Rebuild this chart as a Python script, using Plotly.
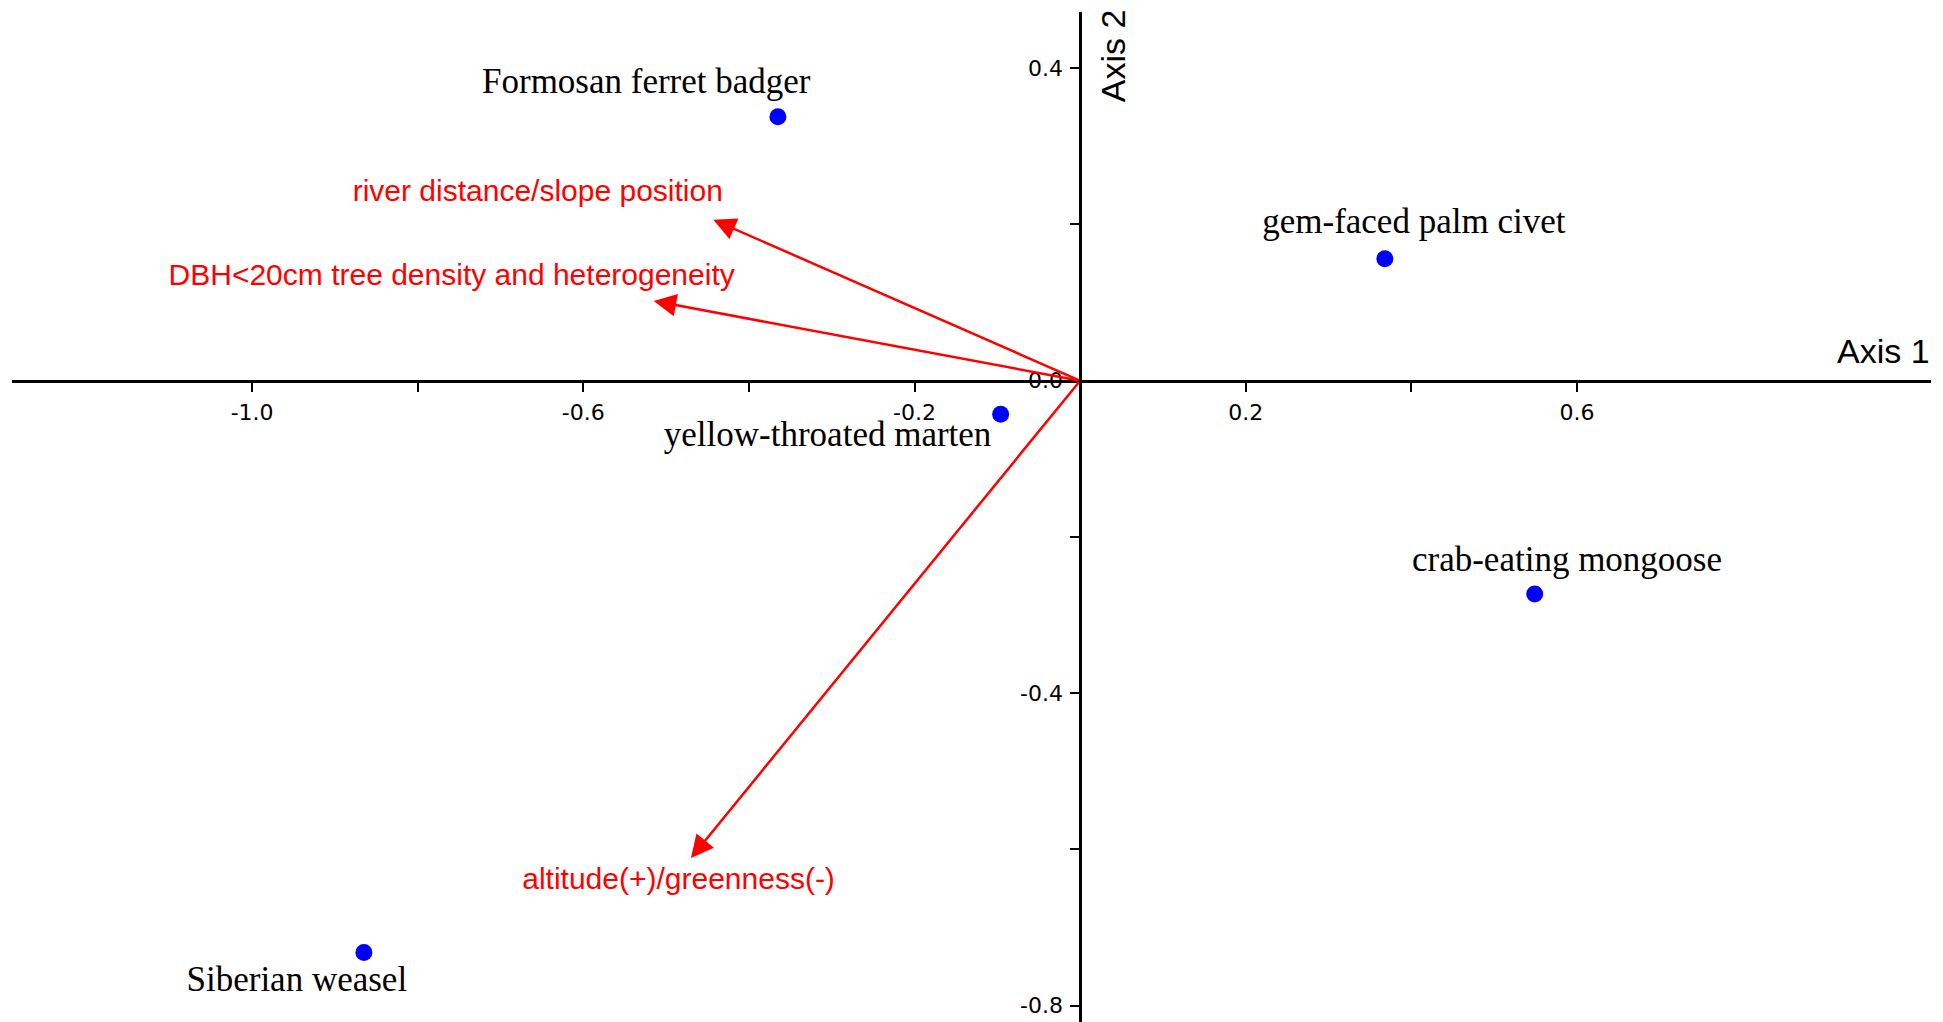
import plotly.graph_objects as go

# species scores on the two ordination axes
species = ["Formosan ferret badger", "gem-faced palm civet", "yellow-throated marten",
           "crab-eating mongoose", "Siberian weasel"]
sp_x = [-0.365, 0.368, -0.096, 0.549, -0.865]
sp_y = [0.338, 0.156, -0.043, -0.273, -0.732]

# environmental vectors (arrow tips, from the origin)
env = ["river distance/slope position", "DBH<20cm tree density and heterogeneity",
       "altitude(+)/greenness(-)"]
env_x = [-0.443, -0.515, -0.470]
env_y = [0.206, 0.102, -0.611]

# tick values / labels
x_ticks = [-1.0, -0.8, -0.6, -0.4, -0.2, 0.2, 0.4, 0.6]
x_ticktext = ["-1.0", "", "-0.6", "", "-0.2", "0.2", "", "0.6"]
y_ticks = [0.4, 0.2, 0.0, -0.2, -0.4, -0.6, -0.8]
y_ticktext = ["0.4", "", "0.0", "", "-0.4", "", "-0.8"]

# where the text labels sit (data units)
sp_lab_x = [-0.524, 0.403, -0.305, 0.588, -0.946]
sp_lab_y = [0.379, 0.200, -0.072, -0.232, -0.770]
env_lab_x = [-0.655, -0.759, -0.485]
env_lab_y = [0.240, 0.132, -0.641]

xr = [-1.290, 1.0276]
yr = [-0.821, 0.472]

fig = go.Figure()

fig.add_trace(go.Scatter(
    x=sp_x, y=sp_y, mode="markers",
    marker=dict(color="#0000ff", size=17, line=dict(width=0)),
    hovertext=species, hoverinfo="text", showlegend=False))

fig.add_trace(go.Scatter(
    x=sp_lab_x, y=sp_lab_y, mode="text", text=species,
    textfont=dict(family="Liberation Serif, Times New Roman, serif", size=35, color="black"),
    hoverinfo="skip", showlegend=False))

fig.add_trace(go.Scatter(
    x=env_lab_x, y=env_lab_y, mode="text", text=env,
    textfont=dict(family="Liberation Sans, Arial, sans-serif", size=30, color="#ff0000"),
    hoverinfo="skip", showlegend=False))

# arrows from origin to each vector tip
for ex, ey in zip(env_x, env_y):
    fig.add_annotation(x=ex, y=ey, ax=0, ay=0, xref="x", yref="y", axref="x", ayref="y",
                       text="", showarrow=True, arrowhead=2, arrowsize=1.8,
                       arrowwidth=2.5, arrowcolor="#ff0000")

narrow = "Liberation Sans Narrow, Arial Narrow, sans-serif"
fig.add_annotation(x=0.970, y=0.038, xref="x", yref="y", text="Axis 1", showarrow=False,
                   font=dict(family=narrow, size=34, color="black"))
fig.add_annotation(x=0.039, y=0.416, xref="x", yref="y", text="Axis 2", showarrow=False,
                   textangle=-90, font=dict(family=narrow, size=34, color="black"))

tickfont = dict(family="DejaVu Sans, Arial, sans-serif", size=22, color="black")

fig.update_layout(
    width=1943, height=1022,
    margin=dict(l=4, r=20, t=4, b=8),
    paper_bgcolor="white", plot_bgcolor="white",
    xaxis=dict(range=xr, anchor="free", position=(0 - yr[0]) / (yr[1] - yr[0]),
               showline=True, linecolor="black", linewidth=3,
               showgrid=False, zeroline=False,
               tickvals=x_ticks, ticktext=x_ticktext, ticks="outside",
               ticklen=9, tickwidth=2, tickcolor="black", tickfont=tickfont,
               ticklabelstandoff=2),
    yaxis=dict(range=yr, anchor="free", position=(0 - xr[0]) / (xr[1] - xr[0]),
               showline=True, linecolor="black", linewidth=2.5,
               showgrid=False, zeroline=False,
               tickvals=y_ticks, ticktext=y_ticktext, ticks="outside",
               ticklen=9, tickwidth=2, tickcolor="black", tickfont=tickfont,
               ticklabelstandoff=3),
)

fig.write_html("out.html")
